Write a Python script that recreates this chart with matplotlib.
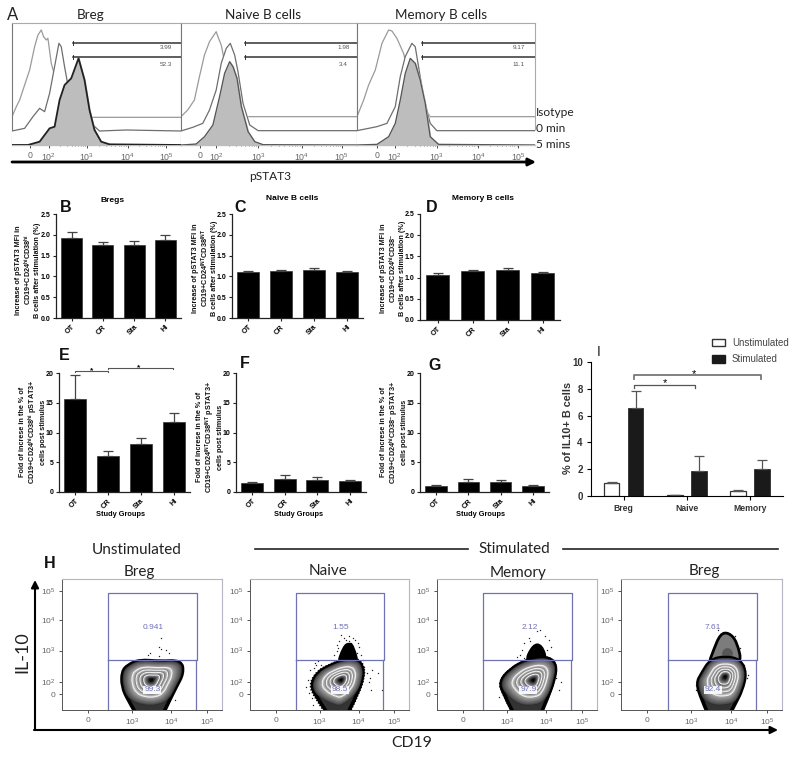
import numpy as np
import matplotlib
matplotlib.use("Agg")
import matplotlib.pyplot as plt
from matplotlib.patches import Patch, PathPatch
from matplotlib.path import Path

plt.rcParams['font.family'] = ['Liberation Sans', 'DejaVu Sans']
plt.rcParams['mathtext.default'] = 'regular'

W, H = 794, 760

# ---- panel A, histograms (x = channel, y = count)
a_limits = [(37, 545), (545, 1070), (1070, 1605)]
a_ticks = [[92, 147, 262, 385, 500], [603, 650, 775, 905, 1025], [1130, 1183, 1310, 1435, 1555]]
a_ticklabels = ['0', '$10^2$', '$10^3$', '$10^4$', '$10^5$']
a_gates = [(220, 3.99, 52.3, 500), (737, 1.98, 3.4, 1030), (1265, 9.17, 11.1, 1557)]
a_titles = ['Breg', 'Naive B cells', 'Memory B cells']

iso_x = [
    [37, 50, 60, 75, 90, 105, 115, 125, 132, 140, 145, 155, 165, 190, 250, 275, 545],
    [545, 565, 585, 600, 615, 630, 640, 650, 657, 665, 672, 690, 720, 740, 1070],
    [1070, 1090, 1105, 1125, 1145, 1165, 1175, 1190, 1210, 1230, 1270, 1290, 1605],
]
iso_y = [
    [85, 115, 135, 180, 225, 295, 330, 345, 325, 315, 320, 245, 210, 175, 95, 83, 83],
    [85, 105, 135, 205, 270, 310, 325, 340, 320, 300, 265, 185, 105, 85, 85],
    [85, 135, 180, 225, 305, 345, 342, 320, 275, 195, 115, 85, 85],
]
zero_x = [
    [37, 75, 100, 120, 135, 150, 165, 178, 185, 195, 205, 230, 275, 300, 380, 545],
    [545, 580, 610, 630, 650, 665, 680, 692, 705, 715, 730, 750, 775, 1070],
    [1070, 1130, 1160, 1185, 1200, 1215, 1235, 1245, 1255, 1270, 1290, 1310, 1605],
]
zero_y = [
    [42, 50, 85, 110, 100, 155, 235, 305, 295, 235, 180, 130, 65, 42, 45, 42],
    [42, 53, 65, 105, 165, 245, 290, 305, 270, 220, 125, 60, 43, 43],
    [43, 55, 65, 115, 205, 265, 305, 295, 235, 145, 65, 43, 43],
]
five_x = [
    [37, 85, 120, 150, 165, 180, 195, 215, 237, 255, 270, 285, 305, 330, 545],
    [545, 590, 615, 640, 660, 675, 690, 700, 712, 725, 745, 765, 790, 1070],
    [1070, 1130, 1165, 1185, 1200, 1215, 1230, 1245, 1260, 1275, 1290, 1315, 1605],
]
five_y = [
    [0, 0, 10, 50, 55, 135, 180, 200, 260, 195, 105, 45, 10, 2, 0],
    [0, 3, 25, 60, 145, 215, 250, 235, 200, 115, 40, 10, 1, 0],
    [0, 2, 25, 65, 135, 215, 260, 245, 195, 125, 25, 2, 0],
]

# ---- bar panels
groups = ['OT', 'CR', 'Sta', 'HI']
b_vals, b_tops = [1.92, 1.75, 1.76, 1.88], [2.07, 1.82, 1.85, 2.00]
c_vals, c_tops = [1.10, 1.13, 1.15, 1.10], [1.12, 1.15, 1.21, 1.12]
d_vals, d_tops = [1.07, 1.15, 1.17, 1.12], [1.10, 1.18, 1.22, 1.14]
e_vals, e_tops = [15.6, 6.0, 8.1, 11.7], [19.7, 6.9, 9.0, 13.3]
f_vals, f_tops = [1.45, 2.2, 2.05, 1.8], [1.7, 2.9, 2.6, 2.0]
g_vals, g_tops = [1.0, 1.75, 1.65, 1.05], [1.1, 2.2, 2.0, 1.2]

i_groups = ['Breg', 'Naive', 'Memory']
unstim, unstim_top = [0.95, 0.07, 0.38], [1.05, 0.10, 0.48]
stim, stim_top = [6.55, 1.90, 2.05], [7.85, 2.95, 2.65]

# ---- panel H, zebra plots (channel units inside each gate plot)
h_titles = ['Breg', 'Naive', 'Memory', 'Breg']
h_upper = ['0.941', '1.55', '2.12', '7.61']
h_lower = ['99.3', '98.5', '97.9', '92.4']
h_upper_x = [273, 273, 279, 274]
h_lower_x = [271, 272, 274, 273]

body_x = [
    [240, 198, 180, 180, 198, 233, 293, 358, 364, 343, 323, 290],
    [255, 200, 184, 203, 240, 285, 325, 340, 342, 325, 280],
    [245, 199, 188, 219, 269, 329, 358, 352, 329, 300],
    [272, 241, 225, 241, 266, 311, 356, 373, 361, 341, 310],
]
body_y = [
    [-40, 30, 70, 115, 135, 150, 145, 148, 110, 70, 30, -40],
    [-40, 40, 75, 112, 133, 150, 150, 130, 100, 50, -40],
    [-40, 50, 85, 122, 150, 160, 138, 90, 30, -40],
    [-40, 30, 80, 110, 150, 160, 150, 110, 60, 20, -40],
]
body_cx = [268, 275, 289, 311]
body_cy = [90, 90, 90, 100]

lobe_x = [None,
          [262, 283, 300, 312, 328],
          [262, 289, 314, 330],
          [258, 276, 296, 321, 346, 362]]
lobe_y = [None,
          [130, 190, 200, 190, 130],
          [140, 196, 194, 145],
          [130, 180, 228, 232, 205, 130]]
lobe_col = [None, 'black', 'black', '#7c7c7c']
halo_scale = [0, 1.05, 1.02, 0]

dots_x = [
    [298, 292, 312, 265, 258, 290, 296, 320, 210, 185, 340, 225],
    [285, 270, 262, 300, 310, 318, 325, 330, 275, 290, 296, 305, 262, 255, 268, 322, 335, 340, 280,
     265, 300, 315, 345, 352, 358, 365, 180, 175, 170, 192, 200, 188, 178, 368, 362, 190, 215, 205, 195, 385, 398],
    [275, 262, 255, 300, 325, 335, 342, 248, 262, 240, 350, 355, 358, 190, 185, 365, 372, 310, 330, 280],
    [235, 225, 240, 250, 258, 340, 355, 367, 375, 290, 225, 380],
]
dots_y = [
    [215, 190, 180, 170, 165, 162, 182, 172, 120, 60, 30, 148],
    [215, 205, 195, 205, 215, 210, 200, 190, 225, 210, 190, 200, 178, 165, 160, 172, 165, 150, 172,
     185, 222, 178, 130, 110, 85, 60, 120, 90, 70, 125, 135, 35, 50, 120, 95, 15, 135, 148, 140, 110, 60],
    [215, 200, 180, 235, 222, 210, 190, 165, 155, 160, 150, 120, 95, 70, 40, 60, 85, 240, 180, 205],
    [85, 75, 40, 120, 135, 220, 185, 135, 95, 240, 60, 105],
]


def px_axes(x0, y0, x1, y1):
    return fig.add_axes([x0 / W, 1 - y1 / H, (x1 - x0) / W, (y1 - y0) / H])


def blob(ax, xs, ys, **kw):
    # closed shape with rounded corners, the points are the control points
    pts = np.column_stack([xs, ys])
    mids = (pts + np.roll(pts, -1, axis=0)) / 2
    verts = [mids[-1]]
    codes = [Path.MOVETO]
    for p, m in zip(pts, mids):
        verts += [p, m]
        codes += [Path.CURVE3, Path.CURVE3]
    patch = PathPatch(Path(verts, codes), **kw)
    ax.add_patch(patch)
    return patch


def draw_bars(box, vals, tops, ymax, yticks, fmt):
    ax = px_axes(*box)
    pos = np.arange(len(vals))
    err = np.array(tops) - np.array(vals)
    ax.bar(pos, vals, width=0.67, color='black', edgecolor='#333333', linewidth=0.5,
           yerr=[np.zeros(len(vals)), err], ecolor='#444444',
           error_kw=dict(elinewidth=0.9, capsize=3.5, capthick=0.9))
    ax.set_xlim(-0.5, 3.5)
    ax.set_ylim(0, ymax)
    ax.set_yticks(yticks)
    ax.set_yticklabels([fmt % t for t in yticks], fontsize=5, fontweight='bold')
    ax.set_xticks(pos)
    ax.set_xticklabels(groups, fontsize=5.3, fontweight='bold', rotation=45, ha='right', rotation_mode='anchor')
    ax.spines['top'].set_visible(False)
    ax.spines['right'].set_visible(False)
    for s in ['left', 'bottom']:
        ax.spines[s].set_linewidth(0.9)
        ax.spines[s].set_color('#222222')
    ax.tick_params(length=2.5, width=0.8, pad=1.5, color='#222222')
    ax.patch.set_alpha(0)
    return ax


def bracket(ax, x0, x1, y, drop, color='#555555', lw=0.8):
    ax.plot([x0, x0, x1, x1], [y - drop, y, y, y - drop], color=color, lw=lw, clip_on=False)


fig = plt.figure(figsize=(W / 100, H / 100), dpi=100)
ov = fig.add_axes([0, 0, 1, 1])
ov.set_xlim(0, W)
ov.set_ylim(H, 0)
ov.axis('off')
ov.set_zorder(5)

lab = dict(family=['Lato', 'DejaVu Sans'], ha='center', va='center', color='#222222')
panel_font = dict(fontweight='bold', ha='center', va='center', color='#111111', fontsize=11.5)

# --- A
a_boxes = [(12, 23, 181, 145), (181, 23, 357, 145), (357, 23, 535, 145)]
for i, box in enumerate(a_boxes):
    ax = px_axes(*box)
    ax.set_xlim(*a_limits[i])
    ax.set_ylim(0, 366)
    ax.fill_between(iso_x[i], iso_y[i], 83, color='white', zorder=1)
    ax.plot(iso_x[i], iso_y[i], color='#9a9a9a', lw=0.9, zorder=2)
    ax.fill_between(zero_x[i], zero_y[i], 0, color='white', zorder=3)
    ax.plot(zero_x[i], zero_y[i], color='#6e6e6e', lw=0.9, zorder=4)
    ax.fill_between(five_x[i], five_y[i], 0, color='#bdbdbd', zorder=5)
    ax.plot(five_x[i], five_y[i], color='#222222' if i == 0 else '#555555', lw=1.3 if i == 0 else 0.9, zorder=6)
    ax.set_xticks(a_ticks[i])
    ax.set_xticklabels(a_ticklabels, fontsize=6.3, color='#666666')
    minor = []
    for t0, t1 in zip(a_ticks[i][1:-1], a_ticks[i][2:]):
        minor += list(t0 + (t1 - t0) * np.log10(np.arange(2, 10)))
    ax.set_xticks(minor, minor=True)
    ax.set_yticks([])
    ax.tick_params(axis='x', length=2, width=0.6, pad=2.5, color='#333333')
    ax.tick_params(axis='x', which='minor', length=1, width=0.4, color='#333333')
    for s in ['top', 'right']:
        ax.spines[s].set_color('#aaaaaa')
        ax.spines[s].set_linewidth(0.8)
    ax.spines['left'].set_color('#777777')
    ax.spines['bottom'].set_color('#333333')
    gx, v1, v2, lx = a_gates[i]
    for gy in (307, 265):
        ax.plot([gx, a_limits[i][1]], [gy, gy], color='#333333', lw=1.1, zorder=7)
        ax.plot([gx, gx], [gy - 6, gy + 6], color='#333333', lw=0.7, zorder=7)
        ax.plot([a_limits[i][1]] * 2, [gy - 6, gy + 6], color='#333333', lw=0.7, zorder=7)
    ax.text(lx, 292, str(v1), fontsize=4.6, color='#555555', ha='center', va='center')
    ax.text(lx, 240, str(v2), fontsize=4.6, color='#555555', ha='center', va='center')

ov.text(13, 15, 'A', fontsize=12, **lab)
for x, t in zip([91, 263, 441], a_titles):
    ov.text(x, 15, t, fontsize=9.7, **lab)
for y, t in zip([113, 129, 144], ['Isotype', '0 min', '5 mins']):
    ov.text(536, y, t, fontsize=8.6, family=['Lato', 'DejaVu Sans'], ha='left', va='center', color='#222222')
ov.annotate('', xy=(536, 162), xytext=(12, 162),
            arrowprops=dict(arrowstyle='-|>', color='black', lw=2, mutation_scale=11, shrinkA=0, shrinkB=0))
ov.text(270, 176, 'pSTAT3', fontsize=8.6, **lab)

# --- B, C, D
yt25 = [0, 0.5, 1.0, 1.5, 2.0, 2.5]
draw_bars((56, 214, 181, 318), b_vals, b_tops, 2.5, yt25, '%.1f')
draw_bars((232, 214, 363, 318), c_vals, c_tops, 2.5, yt25, '%.1f')
draw_bars((420, 214, 560, 320), d_vals, d_tops, 2.5, yt25, '%.1f')

mfi = 'Increase of pSTAT3 MFI in\nCD19+CD24$^{%s}$CD38$^{%s}$\nB cells after stimulation (%%)'
ylab = dict(fontsize=5.2, fontweight='bold', rotation=90, ha='center', va='center', linespacing=1.05, color='#111111')
ov.text(28, 270, mfi % ('hi', 'hi'), **ylab)
ov.text(205, 268, mfi % ('INT', 'INT'), **ylab)
ov.text(393, 268, mfi % ('hi', '-'), **ylab)
ov.text(113, 201, 'Bregs', fontsize=6, fontweight='bold', ha='center', va='center')
ov.text(292, 199, 'Naive B cells', fontsize=6, fontweight='bold', ha='center', va='center')
ov.text(483, 199, 'Memory B cells', fontsize=6, fontweight='bold', ha='center', va='center')
ov.text(66, 208, 'B', **panel_font)
ov.text(240, 208, 'C', **panel_font)
ov.text(432, 207, 'D', **panel_font)

# --- E, F, G
yt20 = [0, 5, 10, 15, 20]
ax_e = draw_bars((59, 373, 190, 492), e_vals, e_tops, 20, yt20, '%d')
draw_bars((236, 373, 366, 492), f_vals, f_tops, 20, yt20, '%d')
draw_bars((420, 373, 549, 492), g_vals, g_tops, 20, yt20, '%d')

bracket(ax_e, 0.0, 0.99, 20.4, 0.3)
bracket(ax_e, 0.99, 2.98, 20.9, 0.3)
ax_e.text(0.49, 20.35, '*', fontsize=6, fontweight='bold', ha='center', va='center', clip_on=False)
ax_e.text(1.92, 20.85, '*', fontsize=6, fontweight='bold', ha='center', va='center', clip_on=False)

fold = 'Fold of increse in the % of\nCD19+CD24$^{{{0}}}$CD38$^{{{1}}}$ pSTAT3+\ncells post stimulus'
ov.text(33, 432, fold.format('hi', 'hi'), **ylab)
ov.text(210, 437, fold.format('INT', 'INT'), **ylab)
ov.text(394, 432, fold.format('hi', '-'), **ylab)
for x in [121, 298, 481]:
    ov.text(x, 515, 'Study Groups', fontsize=5.3, fontweight='bold', ha='center', va='center')
ov.text(64, 356, 'E', **panel_font)
ov.text(245, 363, 'F', **panel_font)
ov.text(435, 366, 'G', **panel_font)

# --- I
ax_i = px_axes(591, 362, 783, 496)
pos = np.arange(3)
ax_i.bar(pos - 0.19, unstim, width=0.25, color='white', edgecolor='#333333', linewidth=0.9,
         yerr=[np.zeros(3), np.array(unstim_top) - np.array(unstim)], ecolor='#555555',
         error_kw=dict(elinewidth=0.9, capsize=3.5, capthick=0.9))
ax_i.bar(pos + 0.19, stim, width=0.25, color='#1a1a1a', edgecolor='#1a1a1a', linewidth=0.5,
         yerr=[np.zeros(3), np.array(stim_top) - np.array(stim)], ecolor='#555555',
         error_kw=dict(elinewidth=0.9, capsize=3.5, capthick=0.9))
ax_i.set_xlim(-0.516, 2.526)
ax_i.set_ylim(0, 10)
ax_i.set_yticks([0, 2, 4, 6, 8, 10])
ax_i.set_yticklabels(['0', '2', '4', '6', '8', '10'], fontsize=7, fontweight='bold', color='#333333')
ax_i.set_xticks(pos)
ax_i.set_xticklabels(i_groups, fontsize=6.2, fontweight='bold', color='#333333')
ax_i.spines['top'].set_visible(False)
ax_i.spines['right'].set_visible(False)
ax_i.tick_params(length=3, width=0.8, pad=3)
ax_i.patch.set_alpha(0)
bracket(ax_i, 0.17, 1.13, 8.31, 0.25, color='#555555', lw=0.9)
bracket(ax_i, 0.16, 2.17, 9.0, 0.25, color='#777777', lw=1.3)
ax_i.text(0.65, 8.45, '*', fontsize=8, ha='center', va='center', clip_on=False)
ax_i.text(1.12, 9.1, '*', fontsize=8, ha='center', va='center', clip_on=False)
ov.text(568, 428, '% of IL10+ B cells', fontsize=7.8, fontweight='bold', rotation=90, ha='center', va='center', color='#333333')
ov.text(599, 352, 'I', fontsize=10, ha='center', va='center', color='#222222')
fig.legend(handles=[Patch(facecolor='white', edgecolor='#333333'), Patch(facecolor='#1a1a1a', edgecolor='#1a1a1a')],
           labels=['Unstimulated', 'Stimulated'], loc='upper left', bbox_to_anchor=(712 / W, 1 - 338 / H),
           frameon=False, fontsize=7, labelcolor='#444444', handlelength=1.34, handleheight=0.82,
           handletextpad=0.7, labelspacing=0.65, borderaxespad=0, borderpad=0)

# --- H
h_boxes = [(62, 579, 222, 710), (250, 579, 409, 710), (437, 579, 597, 710), (621, 579, 782, 710)]
gate = '#6f72b4'
rings = [0.66, 0.52, 0.39, 0.26]
shade_s = [0.0, 0.05, 0.25, 0.26, 0.38, 0.39, 0.51, 0.52, 0.65, 0.66, 0.94, 1.0]
shade_v = [0.0, 0.02, 0.6, 0.25, 0.72, 0.35, 0.76, 0.4, 0.82, 0.68, 0.3, 0.1]
for i, box in enumerate(h_boxes):
    ax = px_axes(*box)
    ax.set_xlim(0, 480)
    ax.set_ylim(0, 392)
    ax.scatter(dots_x[i], dots_y[i], s=1.0, color='#222222', linewidths=0, zorder=2)
    bx, by = np.array(body_x[i], float), np.array(body_y[i], float)
    cx, cy = body_cx[i], body_cy[i]
    if halo_scale[i]:
        blob(ax, cx + (bx - cx) * halo_scale[i], cy + (by - cy) * halo_scale[i], facecolor='none',
             edgecolor='black', lw=1.8, linestyle=(0, (0.5, 0.7)), zorder=2)
    if lobe_x[i] is not None:
        blob(ax, lobe_x[i], lobe_y[i], facecolor=lobe_col[i], edgecolor='black', lw=2, zorder=3)
    if i == 3:
        ax.scatter([316], [172], s=60, color='#3a3a3a', linewidths=0, alpha=0.55, zorder=3)
    blob(ax, bx, by, facecolor='#333333', edgecolor='black', lw=2.6, zorder=3)
    # nested fills give the zebra shading, the inner ones stop above the axis
    iy = np.maximum(by, 12)
    for s in np.linspace(0.98, 0.04, 70):
        shade = np.interp(s, shade_s, shade_v)
        blob(ax, cx + (bx - cx) * s, cy + (iy - cy) * s, facecolor=str(round(float(shade), 3)), lw=0, zorder=4)
    for s in rings:
        blob(ax, cx + (bx - cx) * s, cy + (iy - cy) * s, facecolor='none', edgecolor='#f0f0f0', lw=0.8, zorder=5)
    ax.plot([139, 139, 406, 406, 139], [150, 350, 350, 150, 150], color=gate, lw=0.9, zorder=6)
    ax.plot([139, 139], [0, 150], color=gate, lw=0.9, zorder=6)
    ax.plot([403, 403], [0, 150], color=gate, lw=0.9, zorder=6)
    ax.text(h_upper_x[i], 248, h_upper[i], fontsize=6, color=gate, ha='center', va='center', zorder=7)
    ax.text(h_lower_x[i], 60, h_lower[i], fontsize=6, color=gate, ha='center', va='center', zorder=7,
            bbox=dict(facecolor='white', edgecolor='none', alpha=0.9, pad=0.6))
    ax.set_xticks([78, 210, 328, 435])
    ax.set_xticklabels(['0', '$10^3$', '$10^4$', '$10^5$'], fontsize=6, color='#666666')
    ax.set_yticks([47, 83, 178, 268, 355])
    ax.set_yticklabels(['0', '$10^2$', '$10^3$', '$10^4$', '$10^5$'], fontsize=6, color='#666666')
    ax.tick_params(length=2, width=0.6, pad=3, color='#333333')
    for s in ['top', 'right']:
        ax.spines[s].set_color('#b5b5c5')
        ax.spines[s].set_linewidth(0.8)
    for s in ['left', 'bottom']:
        ax.spines[s].set_color('#555555')
        ax.spines[s].set_linewidth(0.7)

ov.text(50, 563, 'H', **panel_font)
ov.text(137, 550, 'Unstimulated', fontsize=11, **lab)
ov.text(514, 549, 'Stimulated', fontsize=11, **lab)
ov.plot([255, 468], [549, 549], color='#222222', lw=1.2)
ov.plot([563, 778], [549, 549], color='#222222', lw=1.2)
for x, y, t in zip([139, 328, 518, 704], [572, 571, 573, 571], h_titles):
    ov.text(x, y, t, fontsize=11, **lab)
ov.annotate('', xy=(35, 580), xytext=(35, 730),
            arrowprops=dict(arrowstyle='-|>', color='black', lw=1.5, mutation_scale=11, shrinkA=0, shrinkB=0))
ov.annotate('', xy=(778, 730), xytext=(34, 730),
            arrowprops=dict(arrowstyle='-|>', color='black', lw=1.5, mutation_scale=11, shrinkA=0, shrinkB=0))
ov.text(22, 652, 'IL-10', fontsize=13, rotation=90, **lab)
ov.text(412, 743, 'CD19', fontsize=11.3, **lab)

fig.savefig('out.png', dpi=100, facecolor='white')
